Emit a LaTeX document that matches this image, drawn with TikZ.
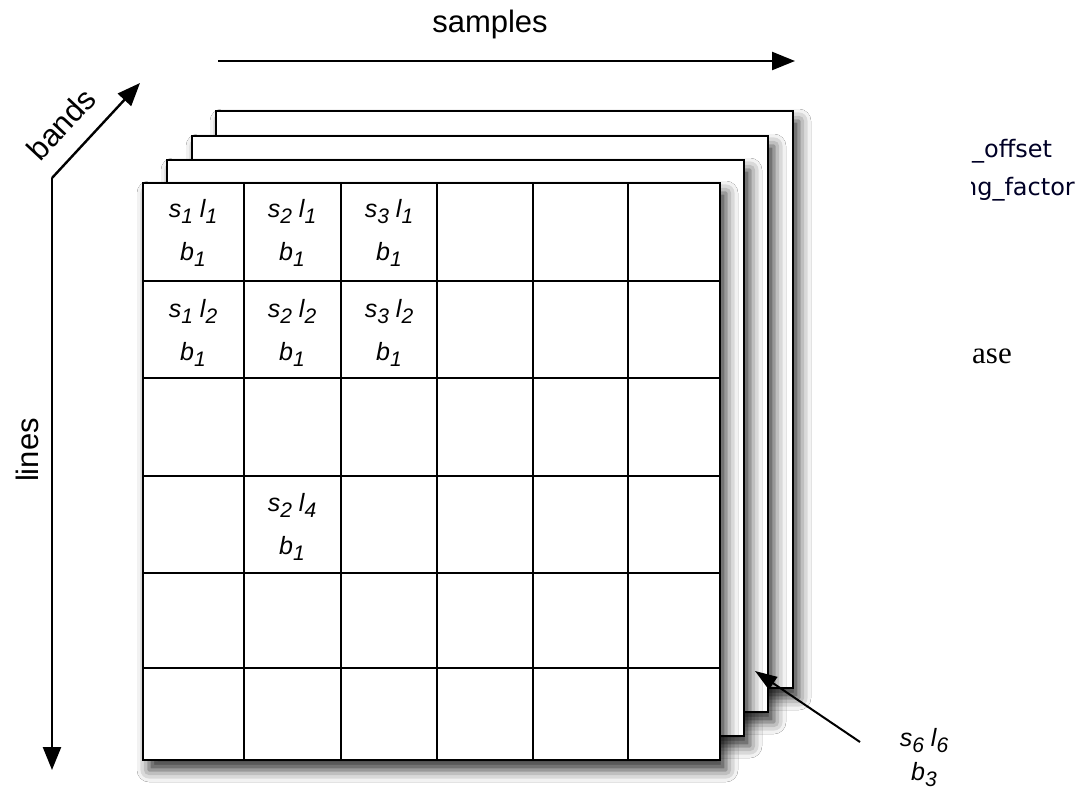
\documentclass[tikz,border=0pt]{standalone}
\usepackage{fontspec}
\setmainfont{Liberation Sans}
\newfontfamily\uifont{DejaVu Sans}
\newfontfamily\serfont{Liberation Serif}
\usetikzlibrary{arrows.meta,shadows.blur}
\newcommand\csub[2]{#1\raisebox{-6pt}{\fontsize{21}{21}\selectfont #2}}
\tikzset{
  layer/.style={draw=black, line width=2.2pt, fill=white,
    blur shadow={shadow xshift=6pt, shadow yshift=-10pt, shadow blur radius=12pt, shadow opacity=80}},
  gridline/.style={draw=black, line width=2pt},
  axis/.style={draw=black, line width=2.4pt, -{Triangle[length=23pt,width=18pt,color=black,fill=black]}},
  ptr/.style={draw=black, line width=2pt, -{Triangle[length=22pt,width=15pt,color=black,fill=black]}},
  axlabel/.style={font=\fontsize{31}{36}\selectfont, inner sep=0pt},
  cell/.style={font=\itshape\fontsize{25}{43}\selectfont, align=center, inner sep=0pt},
  frag/.style={font=\uifont\fontsize{24}{28}\selectfont, text=black!85!blue, inner sep=0pt},
}
\begin{document}
\begin{tikzpicture}[x=1pt,y=-1pt]
\useasboundingbox[fill=white] (0,0) rectangle (1088,795);
% stacked band layers
\path[layer] (216,111) rectangle (793,688);
\path[layer] (192,136) rectangle (768,712);
\path[layer] (167,160) rectangle (744,736);
\path[layer] (143,183) rectangle (720,760);
% grid of front layer
\foreach \x in {244,341,437,533,628} \draw[gridline] (\x,183) -- (\x,760);
\foreach \y in {281,378,476,573,668} \draw[gridline] (143,\y) -- (720,\y);
% cell labels
\node[cell] (c11) at (193,233) {\csub{s}{1} \csub{l}{1}\\\csub{b}{1}};
\node[cell] (c21) at (292,233) {\csub{s}{2} \csub{l}{1}\\\csub{b}{1}};
\node[cell] (c31) at (389,233) {\csub{s}{3} \csub{l}{1}\\\csub{b}{1}};
\node[cell] (c12) at (193,333) {\csub{s}{1} \csub{l}{2}\\\csub{b}{1}};
\node[cell] (c22) at (292,333) {\csub{s}{2} \csub{l}{2}\\\csub{b}{1}};
\node[cell] (c32) at (389,333) {\csub{s}{3} \csub{l}{2}\\\csub{b}{1}};
\node[cell] (c24) at (292,527) {\csub{s}{2} \csub{l}{4}\\\csub{b}{1}};
% axes
\coordinate (o) at (52,178);
\coordinate (sA) at (218,61);
\coordinate (sB) at (795,61);
\coordinate (bEnd) at (140,83);
\coordinate (lEnd) at (52,770);
\draw[axis] (sA) -- (sB);
\draw[axis] (o) -- (bEnd);
\draw[axis] (o) -- (lEnd);
\node[axlabel] (samples) at (490,24) {samples};
\node[axlabel, rotate=47] (bands) at (61,124) {bands};
\node[axlabel, rotate=90] (lines) at (27,450) {lines};
% pointer label
\node[cell, font=\itshape\fontsize{25}{34}\selectfont] (c66) at (924,758) {\csub{s}{6} \csub{l}{6}\\\csub{b}{3}};
\coordinate (pStart) at (860,742);
\coordinate (pTip) at (755,671);
\draw[ptr] (pStart) -- (pTip);
% cut-off fragments on the right
\node[frag, anchor=base west] (f1) at (972,157) {\_offset};
\begin{scope}
\clip (971,120) rectangle (1088,210);
\node[frag, anchor=base east] (f2) at (1075,195) {scaling\_factor};
\end{scope}
\node[font=\serfont\fontsize{31}{36}\selectfont, inner sep=0pt, anchor=base west] (f3) at (972,363) {ase};
\end{tikzpicture}
\end{document}
